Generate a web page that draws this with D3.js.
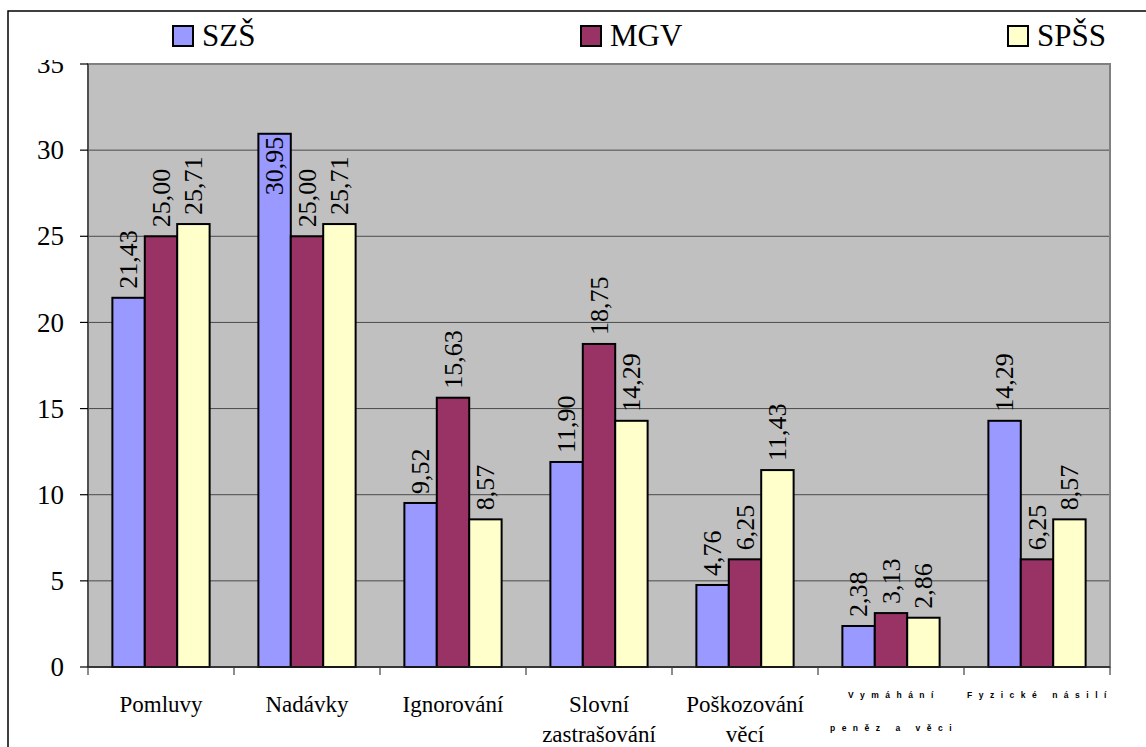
<!DOCTYPE html>
<html>
<head>
<meta charset="utf-8">
<script src="https://cdn.jsdelivr.net/npm/d3@7"></script>
<style>
  html, body { margin: 0; padding: 0; background: #fff; }
  svg { display: block; }
</style>
</head>
<body>
<svg id="chart" width="1146" height="747"></svg>
<script>
// Data
const categories = ["Pomluvy", "Nadávky", "Ignorování", "Slovní zastrašování", "Poškozování věcí", "Vymáhání peněz a věci", "Fyzické násilí"];
const series = ["SZŠ", "MGV", "SPŠS"];
const valuesSZS  = [21.43, 30.95, 9.52, 11.90, 4.76, 2.38, 14.29];
const valuesMGV  = [25.00, 25.00, 15.63, 18.75, 6.25, 3.13, 6.25];
const valuesSPSS = [25.71, 25.71, 8.57, 14.29, 11.43, 2.86, 8.57];
const yTicks = [0, 5, 10, 15, 20, 25, 30, 35];

// How each category label is written (lines; small = tiny spaced font)
const categoryLines = [
  { lines: ["Pomluvy"] },
  { lines: ["Nadávky"] },
  { lines: ["Ignorování"] },
  { lines: ["Slovní", "zastrašování"] },
  { lines: ["Poškozování", "věcí"] },
  { lines: ["Vymáhání", "peněz a věci"], small: true },
  { lines: ["Fyzické násilí"], small: true }
];

const colors = { "SZŠ": "#9999ff", "MGV": "#993366", "SPŠS": "#ffffcc" };
const seriesValues = { "SZŠ": valuesSZS, "MGV": valuesMGV, "SPŠS": valuesSPSS };

const SERIF = "Liberation Serif";
const SANS = "Liberation Sans";

const plot = { left: 88, right: 1110, top: 64, bottom: 667 };

const svg = d3.select("#chart");

// serif text helper
function serif(sel, size) {
  return sel.attr("font-family", SERIF)
    .attr("font-size", size)
    .attr("fill", "#000");
}

// Outer chart border (runs off the right/bottom edges)
svg.append("rect")
  .attr("x", 8).attr("y", 11)
  .attr("width", 1300).attr("height", 900)
  .attr("fill", "#fff")
  .attr("stroke", "#000")
  .attr("stroke-width", 1.5);

// Scales
const x0 = d3.scaleBand()
  .domain(categories)
  .range([plot.left, plot.right])
  .padding(0);

const gap = x0.bandwidth() * 0.167;
const x1 = d3.scaleBand()
  .domain(series)
  .range([gap, x0.bandwidth() - gap])
  .padding(0);

const y = d3.scaleLinear()
  .domain([0, 35])
  .range([plot.bottom, plot.top]);

// Plot background
svg.append("rect")
  .attr("x", plot.left).attr("y", plot.top)
  .attr("width", plot.right - plot.left)
  .attr("height", plot.bottom - plot.top)
  .attr("fill", "#c0c0c0");

// Gridlines
svg.append("g")
  .selectAll("line")
  .data(yTicks.filter(t => t > 0 && t < 35))
  .join("line")
  .attr("x1", plot.left).attr("x2", plot.right)
  .attr("y1", d => y(d)).attr("y2", d => y(d))
  .attr("stroke", "#4a4a4a")
  .attr("stroke-width", 1);

// Plot border (grey)
svg.append("rect")
  .attr("x", plot.left).attr("y", plot.top)
  .attr("width", plot.right - plot.left)
  .attr("height", plot.bottom - plot.top)
  .attr("fill", "none")
  .attr("stroke", "#808080")
  .attr("stroke-width", 2);

// Bars
const rows = categories.map((c, i) => ({
  category: c,
  values: series.map(s => ({ series: s, value: seriesValues[s][i] }))
}));

const groups = svg.append("g")
  .selectAll("g")
  .data(rows)
  .join("g")
  .attr("transform", d => `translate(${x0(d.category)},0)`);

groups.selectAll("rect")
  .data(d => d.values)
  .join("rect")
  .attr("x", d => x1(d.series))
  .attr("y", d => y(d.value))
  .attr("width", x1.bandwidth())
  .attr("height", d => y(0) - y(d.value))
  .attr("fill", d => colors[d.series])
  .attr("stroke", "#000")
  .attr("stroke-width", 2);

// Value labels, rotated; put inside the bar if it would hit the top
const LABEL_LEN = 62;
groups.selectAll("text.val")
  .data(d => d.values)
  .join("text")
  .attr("class", "val")
  .call(serif, "26px")
  .attr("dominant-baseline", "central")
  .each(function (d) {
    const cx = x1(d.series) + x1.bandwidth() / 2;
    const top = y(d.value);
    const inside = top - 8 - LABEL_LEN < plot.top + 10;
    const ty = inside ? top + 3 : top - 9;
    d3.select(this)
      .attr("text-anchor", inside ? "end" : "start")
      .attr("transform", `translate(${cx},${ty}) rotate(-90)`);
  })
  .text(d => d.value.toFixed(2).replace(".", ","));

// Axis lines
svg.append("line")
  .attr("x1", plot.left).attr("x2", plot.left)
  .attr("y1", plot.top).attr("y2", plot.bottom)
  .attr("stroke", "#404040").attr("stroke-width", 1.5);
svg.append("line")
  .attr("x1", plot.left).attr("x2", plot.right)
  .attr("y1", plot.bottom).attr("y2", plot.bottom)
  .attr("stroke", "#202020").attr("stroke-width", 1.5);

// Y ticks + labels
const yAxis = svg.append("g");
yAxis.selectAll("line")
  .data(yTicks)
  .join("line")
  .attr("x1", plot.left - 8).attr("x2", plot.left)
  .attr("y1", d => y(d)).attr("y2", d => y(d))
  .attr("stroke", "#000").attr("stroke-width", 1.2);
yAxis.selectAll("text")
  .data(yTicks)
  .join("text")
  .call(serif, "27px")
  .attr("x", 64)
  .attr("y", d => y(d))
  .attr("dy", "0.34em")
  .attr("text-anchor", "end")
  .text(d => d);

// X ticks at category boundaries
const xBounds = categories.map(c => x0(c)).concat([plot.right]);
svg.append("g")
  .selectAll("line")
  .data(xBounds)
  .join("line")
  .attr("x1", d => d).attr("x2", d => d)
  .attr("y1", plot.bottom).attr("y2", plot.bottom + 8)
  .attr("stroke", "#404040").attr("stroke-width", 1.2);

// Category labels
const catG = svg.append("g")
  .selectAll("g")
  .data(categories.map((c, i) => ({ c, ...categoryLines[i] })))
  .join("g")
  .attr("transform", d => `translate(${x0(d.c) + x0.bandwidth() / 2},0)`);

catG.each(function (d) {
  const g = d3.select(this);
  d.lines.forEach((line, k) => {
    if (d.small) {
      g.append("text")
        .attr("font-family", SANS)
        .attr("font-weight", "bold")
        .attr("font-size", "8.5px")
        .attr("letter-spacing", "6.5px")
        .attr("text-anchor", "middle")
        .attr("x", 3)
        .attr("y", 698 + k * 33)
        .text(line);
    } else {
      g.append("text")
        .call(serif, "23px")
        .attr("text-anchor", "middle")
        .attr("y", 712 + k * 30)
        .text(line);
    }
  });
});

// Legend band (white, covers the top of the "35" label)
svg.append("rect")
  .attr("x", 9).attr("y", 12)
  .attr("width", 1140).attr("height", 48)
  .attr("fill", "#fff");

const legendX = { "SZŠ": 173, "MGV": 581, "SPŠS": 1008 };
const legend = svg.append("g")
  .selectAll("g")
  .data(series)
  .join("g")
  .attr("transform", d => `translate(${legendX[d]},26)`);

legend.append("rect")
  .attr("width", 20).attr("height", 20)
  .attr("fill", d => colors[d])
  .attr("stroke", "#000")
  .attr("stroke-width", 2);

legend.append("text")
  .call(serif, "31px")
  .attr("x", 29)
  .attr("y", 20)
  .text(d => d);
</script>
</body>
</html>
